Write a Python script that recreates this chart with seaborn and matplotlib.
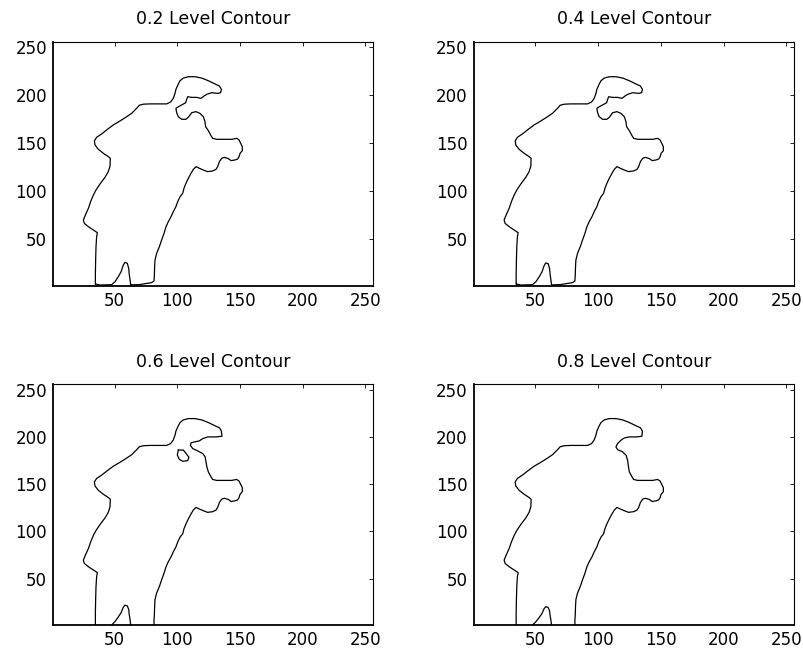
import numpy as np
import pandas as pd
import matplotlib
matplotlib.use("Agg")
import matplotlib.pyplot as plt
import seaborn as sns

# ---------------- data ----------------
levels = ["0.2", "0.4", "0.6", "0.8"]
tick_values = [50, 100, 150, 200, 250]

# left side of the figure: from left leg (bottom) up over the shoulder to hat tip
body_left_x = [34.6, 34.6, 34.8, 35.1, 35.6, 36.2, 33.0, 29.0, 25.8, 25.0, 26.6, 29.0,
               30.8, 33.0, 35.1, 38.3, 42.3, 44.9, 46.3, 46.5, 44.9, 40.9, 36.9, 34.3,
               33.8, 35.6, 39.6, 43.6, 48.9, 54.3, 59.0, 63.6, 67.6, 69.7, 72.9, 78.2,
               86.2, 91.5, 94.7, 96.8, 98.2, 98.9, 100.8, 102.2, 104.8, 108.8, 114.1,
               119.5, 124.8, 130.1, 133.6, 135.2]
body_left_y = [2.8, 13.9, 27.9, 41.8, 52.2, 56.4, 59.2, 62.7, 66.1, 69.6, 74.9, 81.8,
               88.8, 95.8, 101.0, 107.3, 114.3, 120.2, 126.1, 134.1, 135.9, 139.4, 143.6,
               148.1, 152.3, 156.1, 159.6, 163.8, 169.0, 173.2, 177.1, 181.2, 186.5, 189.6,
               190.7, 191.0, 191.0, 191.0, 193.0, 196.8, 202.0, 206.2, 211.8, 215.2, 218.0,
               219.4, 219.4, 218.0, 215.2, 211.8, 209.7, 206.2]

# underside of the hat brim down to the face (differs by level)
head_02_x = [134.6, 132.2, 127.4, 123.5, 121.3, 118.9, 115.5, 111.5, 108.3, 107.5, 106.7,
             104.3, 100.8, 98.9, 99.5, 100.8, 103.5, 106.9, 108.8, 110.1, 111.5, 114.9,
             118.1, 120.8, 122.1, 122.6]
head_02_y = [202.7, 202.0, 202.7, 201.0, 199.2, 196.8, 197.8, 197.8, 198.5, 195.7, 192.2,
             190.5, 188.0, 186.3, 181.8, 177.6, 174.9, 174.9, 177.0, 179.4, 181.8, 182.9,
             181.1, 177.6, 172.4, 167.2]
head_04_x = head_02_x
head_04_y = head_02_y
head_06_x = [135.6, 131.0, 124.3, 120.3, 117.6, 113.6, 111.0, 110.4, 112.3, 116.3, 120.3,
             122.2, 122.9, 123.6]
head_06_y = [200.7, 200.0, 200.0, 198.2, 195.8, 194.7, 193.7, 191.2, 187.7, 185.2, 182.4,
             178.9, 173.6, 168.3]
head_08_x = [134.8, 130.1, 124.7, 120.7, 118.1, 115.4, 114.1, 115.4, 119.4, 122.2, 123.4,
             124.1]
head_08_y = [200.7, 200.0, 200.0, 198.9, 196.5, 193.0, 189.4, 186.6, 184.2, 180.6, 175.4,
             168.3]

# right side: face, hand, arm and right leg down to the bottom
body_right_x = [124.8, 126.6, 128.2, 131.4, 138.1, 143.4, 147.4, 149.3, 150.6, 151.9, 151.9,
                150.1, 149.3, 148.2, 146.1, 142.9, 140.8, 137.6, 135.4, 133.6, 132.2, 130.9,
                128.2, 124.2, 120.8, 117.6, 114.9, 112.8, 110.9, 108.8, 106.9, 105.3, 104.3,
                102.2, 100.3, 98.9, 96.8, 95.0, 92.8, 91.0, 89.4, 87.5, 85.7, 83.5, 82.2,
                81.9, 81.7, 81.4]
body_right_y = [163.0, 158.5, 155.0, 154.0, 154.0, 154.0, 155.0, 153.3, 149.8, 146.3, 142.1,
                139.3, 135.8, 133.4, 132.4, 131.7, 133.8, 135.1, 134.1, 130.6, 125.4, 122.6,
                120.9, 120.2, 121.9, 123.7, 125.4, 122.6, 118.4, 113.2, 108.0, 102.7, 97.5,
                94.0, 88.8, 83.6, 78.4, 73.1, 67.9, 62.7, 55.7, 48.8, 41.8, 34.8, 27.9,
                20.9, 12.2, 5.9]

# small bump between the legs (right base -> apex -> left base)
bump_x = [62.8, 62.3, 61.7, 61.2, 60.1, 58.2, 56.9, 55.1, 52.9, 50.3, 47.6]
bump_02_y = [1.4, 7.1, 12.2, 19.1, 24.4, 25.4, 22.6, 15.6, 10.4, 5.2, 2.1]
bump_04_y = [1.4, 7.1, 12.2, 19.1, 24.0, 24.8, 22.0, 15.2, 10.2, 5.1, 2.1]
bump_06_y = [1.0, 6.5, 11.5, 17.5, 21.2, 22.0, 19.8, 14.0, 9.5, 4.8, 1.0]
bump_08_y = [1.0, 6.0, 10.5, 16.0, 19.5, 20.4, 18.4, 13.0, 8.8, 4.4, 1.0]

# closed hole near the face at the 0.6 level
hole_06_x = [100.8, 104.8, 106.9, 109.3, 108.3, 104.3, 101.6, 100.0, 100.8]
hole_06_y = [186.1, 186.1, 182.7, 178.4, 174.9, 174.2, 176.3, 180.9, 186.1]

# bottom closing segments (low levels only)
bottom_right_x = [79.5, 70.0, 62.8]
bottom_right_y = [4.2, 2.2, 1.8]
bottom_left_x = [47.6, 38.3, 34.6]
bottom_left_y = [2.1, 1.7, 2.8]

heads = {"0.2": (head_02_x, head_02_y), "0.4": (head_04_x, head_04_y),
         "0.6": (head_06_x, head_06_y), "0.8": (head_08_x, head_08_y)}
bumps = {"0.2": bump_02_y, "0.4": bump_04_y, "0.6": bump_06_y, "0.8": bump_08_y}


def build(level):
    hx, hy = heads[level]
    rows = []
    closed = level in ("0.2", "0.4")
    if closed:
        xs = body_left_x + hx + body_right_x + bottom_right_x + bump_x + bottom_left_x
        ys = body_left_y + hy + body_right_y + bottom_right_y + bumps[level] + bottom_left_y
        rows.append(pd.DataFrame({"x": xs, "y": ys, "seg": 0}))
    else:
        xs = [body_left_x[0]] + body_left_x + hx + body_right_x + [body_right_x[-1]]
        ys = [1.0] + body_left_y + hy + body_right_y + [1.0]
        rows.append(pd.DataFrame({"x": xs, "y": ys, "seg": 0}))
        rows.append(pd.DataFrame({"x": bump_x, "y": bumps[level], "seg": 1}))
    if level == "0.6":
        rows.append(pd.DataFrame({"x": hole_06_x, "y": hole_06_y, "seg": 2}))
    df = pd.concat(rows, ignore_index=True)
    return df


sns.set_style("white")
plt.rcParams["font.family"] = ["DejaVu Sans"]
plt.rcParams["text.color"] = "black"

fig = plt.figure(figsize=(8.04, 6.56), dpi=100)
positions = [
    [53.3 / 804, 1 - 285.7 / 656, 319.4 / 804, 244 / 656],
    [474 / 804, 1 - 285.7 / 656, 320 / 804, 244 / 656],
    [53.3 / 804, 1 - 625 / 656, 319.4 / 804, 241 / 656],
    [474 / 804, 1 - 625 / 656, 320 / 804, 241 / 656],
]

for level, pos in zip(levels, positions):
    ax = fig.add_axes(pos)
    df = build(level)
    sns.lineplot(data=df, x="x", y="y", units="seg", estimator=None, sort=False,
                 color="black", linewidth=0.9, ax=ax, legend=False)
    ax.set_xlim(1, 256)
    ax.set_ylim(1, 256)
    ax.set_xticks(tick_values)
    ax.set_yticks(tick_values)
    ax.set_xticklabels([str(v) for v in tick_values])
    ax.set_yticklabels([str(v) for v in tick_values])
    ax.set_xlabel("")
    ax.set_ylabel("")
    ax.tick_params(direction="in", length=3, width=0.6, top=True, right=True,
                   labelsize=12, pad=4.5, colors="black")
    for side in ["left", "bottom"]:
        ax.spines[side].set_linewidth(1.3)
        ax.spines[side].set_color("black")
    for side in ["top", "right"]:
        ax.spines[side].set_linewidth(0.8)
        ax.spines[side].set_color("black")
    ax.set_title(f"{level} Level Contour", fontsize=12.5, pad=12.5, color="black")

fig.savefig("out.png", dpi=100, facecolor="white")
